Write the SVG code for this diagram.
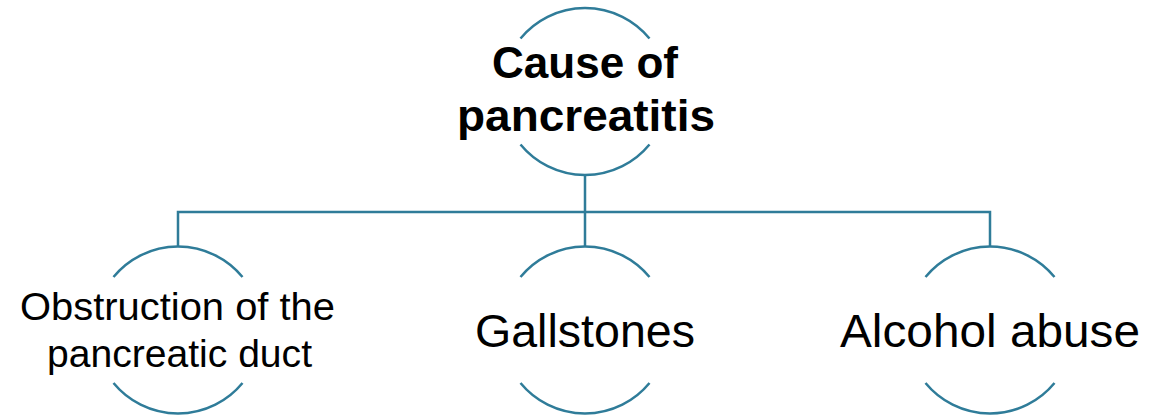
<svg xmlns="http://www.w3.org/2000/svg" width="1160" height="420" viewBox="0 0 1160 420">
<style>
.arc{fill:none;stroke:#2f7c99;stroke-width:2.5}
.con{fill:none;stroke:#2f7c99;stroke-width:2.5}
.t{font-family:"Liberation Sans",Arial,sans-serif;fill:#000;text-anchor:middle}
.b{font-weight:bold}
</style>
<rect width="1160" height="420" fill="#fff"/>
<g id="connectors">
<path class="con" d="M585 175V212M178 247V212H990V247M585 212V247"/>
</g>
<g id="root">
<path class="arc" d="M520.5 38.5A83.5 83.5 0 0 1 649.5 38.5M520.5 144.5A83.5 83.5 0 0 0 649.5 144.5"/>
<text class="t b" x="585" y="78" font-size="44" textLength="186" lengthAdjust="spacingAndGlyphs">Cause of</text>
<text class="t b" x="586" y="131" font-size="45" textLength="258" lengthAdjust="spacingAndGlyphs">pancreatitis</text>
</g>
<g id="obstruction">
<path class="arc" d="M113.5 277A83.5 83.5 0 0 1 242.5 277M113.5 383A83.5 83.5 0 0 0 242.5 383"/>
<text class="t" x="177.5" y="320" font-size="38" textLength="315" lengthAdjust="spacingAndGlyphs">Obstruction of the</text>
<text class="t" x="179.5" y="367" font-size="38" textLength="265" lengthAdjust="spacingAndGlyphs">pancreatic duct</text>
</g>
<g id="gallstones">
<path class="arc" d="M520.5 277A83.5 83.5 0 0 1 649.5 277M520.5 383A83.5 83.5 0 0 0 649.5 383"/>
<text class="t" x="585" y="347" font-size="47" textLength="220" lengthAdjust="spacingAndGlyphs">Gallstones</text>
</g>
<g id="alcohol">
<path class="arc" d="M925.5 277A83.5 83.5 0 0 1 1054.5 277M925.5 383A83.5 83.5 0 0 0 1054.5 383"/>
<text class="t" x="990" y="347" font-size="47" textLength="300" lengthAdjust="spacingAndGlyphs">Alcohol abuse</text>
</g>
</svg>
